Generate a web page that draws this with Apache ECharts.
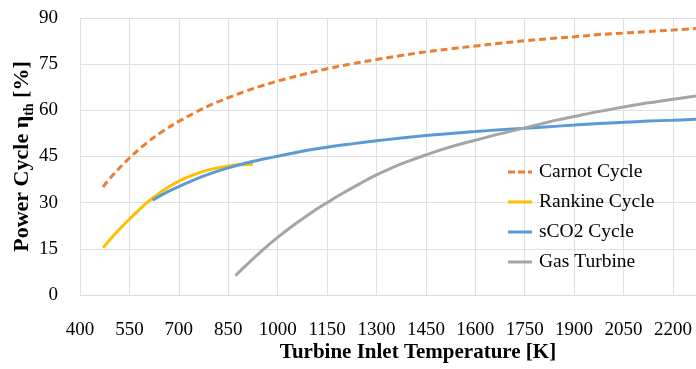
<!DOCTYPE html>
<html>
<head>
<meta charset="utf-8">
<script src="https://cdn.jsdelivr.net/npm/echarts@6/dist/echarts.min.js"></script>
<style>
  html, body { margin: 0; padding: 0; background: #fff; }
  #chart { width: 696px; height: 369px; }
</style>
</head>
<body>
<div id="chart"></div>
<script>
// values (turbine inlet temperature [K] -> efficiency [%])
const carnotT = [470, 500, 550, 600, 650, 700, 750, 800, 850, 900, 950, 1000, 1075, 1150, 1225, 1300, 1375, 1450, 1525, 1600, 1675, 1750, 1825, 1900, 1975, 2050, 2125, 2200, 2270];
const carnotEff = [35.1, 39.0, 44.5, 49.2, 53.1, 56.4, 59.3, 61.9, 64.1, 66.1, 67.9, 69.5, 71.6, 73.5, 75.1, 76.5, 77.8, 79.0, 80.0, 80.9, 81.8, 82.6, 83.3, 83.9, 84.6, 85.1, 85.6, 86.1, 86.6];

const rankineT = [470, 500, 550, 600, 650, 700, 750, 800, 850, 885, 925];
const rankineEff = [15.3, 19.1, 24.6, 29.7, 33.8, 37.0, 39.3, 40.9, 41.9, 42.3, 42.4];

const sco2T = [620, 660, 700, 750, 800, 850, 900, 950, 1000, 1075, 1150, 1225, 1300, 1375, 1450, 1525, 1600, 1675, 1750, 1825, 1900, 1975, 2050, 2125, 2200, 2270];
const sco2Eff = [30.8, 33.2, 35.2, 37.6, 39.6, 41.3, 42.8, 44.0, 45.1, 46.7, 48.0, 49.1, 50.1, 51.0, 51.8, 52.5, 53.1, 53.7, 54.2, 54.7, 55.2, 55.7, 56.1, 56.5, 56.8, 57.1];

const gasT = [872, 900, 950, 1000, 1050, 1100, 1150, 1200, 1250, 1300, 1350, 1400, 1450, 1500, 1550, 1600, 1650, 1700, 1750, 1800, 1850, 1900, 1950, 2000, 2050, 2100, 2150, 2200, 2270];
const gasEff = [6.3, 9.2, 14.2, 18.7, 22.8, 26.6, 30.0, 33.2, 36.2, 39.0, 41.5, 43.6, 45.5, 47.3, 48.9, 50.3, 51.7, 53.0, 54.3, 55.6, 56.9, 58.0, 59.1, 60.1, 61.1, 62.0, 62.8, 63.6, 64.7];

const seriesNames = ['Carnot Cycle', 'Rankine Cycle', 'sCO2 Cycle', 'Gas Turbine'];
const seriesColors = ['#ED7D31', '#FFC000', '#5B9BD5', '#A5A5A5'];

const pairs = (xs, ys) => xs.map((x, i) => [x, ys[i]]);

const font = '"Liberation Serif", "DejaVu Serif", serif';

// legend icons: a short bar, and a dashed bar for Carnot
const solidIcon = 'path://M0,0H24V3H0Z';
const dashedIcon = 'path://M0,0H7V3H0Z M10,0H17V3H10Z M20,0H24V3H20Z';

const mkLine = (idx, data, dashed) => ({
  name: seriesNames[idx],
  type: 'line',
  data: data,
  smooth: 0.4,
  showSymbol: false,
  symbol: 'none',
  lineStyle: {
    color: seriesColors[idx],
    width: 3,
    type: dashed ? [7, 4] : 'solid',
    cap: 'butt'
  },
  itemStyle: { color: seriesColors[idx] }
});

const chart = echarts.init(document.getElementById('chart'), null, { renderer: 'canvas' });

chart.setOption({
  animation: false,
  backgroundColor: '#fff',
  textStyle: { fontFamily: font },
  grid: { left: 80, right: 0, top: 18, bottom: 74, containLabel: false, outerBoundsMode: 'none' },
  legend: {
    orient: 'vertical',
    left: 503,
    top: 157,
    itemWidth: 24,
    itemHeight: 3,
    itemGap: 10,
    textStyle: { fontFamily: font, fontSize: 19.5, color: '#000', lineHeight: 19, padding: [0, 0, 0, 2] },
    data: seriesNames.map((n, i) => ({ name: n, icon: i === 0 ? dashedIcon : solidIcon }))
  },
  xAxis: {
    type: 'value',
    min: 400,
    max: 2270,
    interval: 150,
    name: 'Turbine Inlet Temperature [K]',
    nameLocation: 'middle',
    nameGap: 47,
    nameMoveOverlap: false,
    nameTextStyle: { fontFamily: font, fontSize: 21, fontWeight: 'bold', color: '#000', padding: [0, 0, 0, 60] },
    axisLine: { show: true, lineStyle: { color: '#D9D9D9', width: 1 } },
    axisTick: { show: false },
    axisLabel: {
      fontFamily: font, fontSize: 19, color: '#000', margin: 26, showMaxLabel: false,
      formatter: (v) => String(v)
    },
    splitLine: { show: true, lineStyle: { color: '#E0E0E0', width: 1 } }
  },
  yAxis: {
    type: 'value',
    min: 0,
    max: 90,
    interval: 15,
    name: '{a|Power Cycle η}{b|th}{a| [%]}',
    nameLocation: 'middle',
    nameGap: 47,
    nameMoveOverlap: false,
    nameRotate: 90,
    nameTextStyle: {
      color: '#000',
      rich: {
        a: { fontFamily: font, fontSize: 22, fontWeight: 'bold', color: '#000' },
        b: { fontFamily: font, fontSize: 14, fontWeight: 'bold', color: '#000', verticalAlign: 'bottom', padding: [0, 0, -3, 0] }
      }
    },
    axisLine: { show: false },
    axisTick: { show: false },
    axisLabel: { fontFamily: font, fontSize: 19, color: '#000', margin: 22 },
    splitLine: { show: true, lineStyle: { color: '#E0E0E0', width: 1 } }
  },
  series: [
    mkLine(0, pairs(carnotT, carnotEff), true),
    mkLine(1, pairs(rankineT, rankineEff), false),
    mkLine(2, pairs(sco2T, sco2Eff), false),
    mkLine(3, pairs(gasT, gasEff), false)
  ]
});
</script>
</body>
</html>
